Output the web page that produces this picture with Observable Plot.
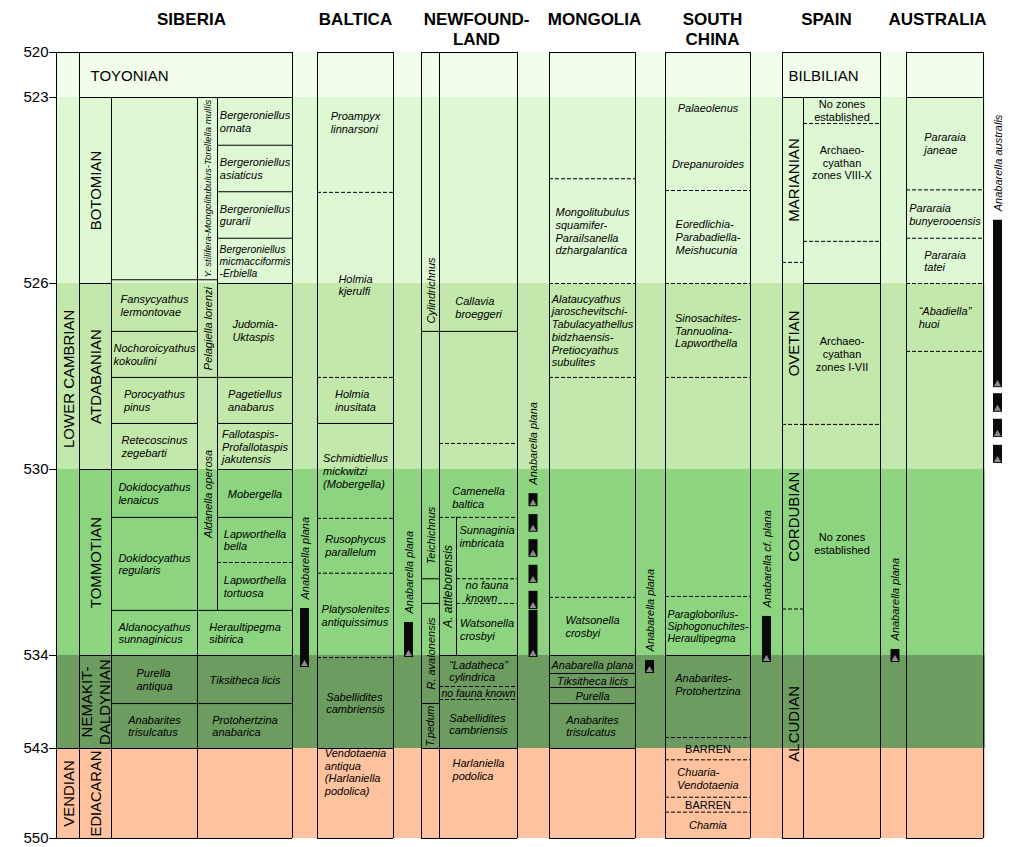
<!DOCTYPE html>
<html><head><meta charset="utf-8">
<script src="https://cdn.jsdelivr.net/npm/d3@7"></script>
<script src="https://cdn.jsdelivr.net/npm/@observablehq/plot@0.6"></script>
<style>body{margin:0;background:#fff}</style>
</head><body><div id="chart"></div>
<script>
// ================= DATA =================
const ageTicks = [520, 523, 526, 530, 534, 543, 550];
const regions = ["SIBERIA", "BALTICA", "NEWFOUND-\nLAND", "MONGOLIA", "SOUTH\nCHINA", "SPAIN", "AUSTRALIA"];
const bandTops = [520, 523, 526, 530, 534, 543];
const bandBottoms = [523, 526, 530, 534, 543, 550];

// [column, top age, bottom age, label, lower boundary (s solid / d dashed / n none), label age]
const siberiaZones = [
  ["sibA", 520, 543, "LOWER CAMBRIAN", "s", 528.05],
  ["sibA", 543, 550, "VENDIAN", "s"],
  ["sibBE", 520, 523, "TOYONIAN", "s"],
  ["sibB", 523, 526, "BOTOMIAN", "s"],
  ["sibB", 526, 530, "ATDABANIAN", "s"],
  ["sibB", 530, 534, "TOMMOTIAN", "s"],
  ["sibB", 534, 543, "NEMAKIT-\nDALDYNIAN", "s"],
  ["sibB", 543, 550, "EDIACARAN", "s"],
  ["sibC", 523, 525.94, "", "s"],
  ["sibC", 525.94, 527.03, "Fansycyathus\nlermontovae", "s"],
  ["sibC", 527.03, 528.02, "Nochoroicyathus\nkokoulini", "s"],
  ["sibC", 528.02, 529.01, "Porocyathus\npinus", "s"],
  ["sibC", 529.01, 530, "Retecoscinus\nzegebarti", "s"],
  ["sibC", 530, 531.03, "Dokidocyathus\nlenaicus", "s"],
  ["sibC", 531.03, 533.03, "Dokidocyathus\nregularis", "s"],
  ["sibC", 533.03, 534, "Aldanocyathus\nsunnaginicus", "s"],
  ["sibC", 534, 538.65, "Purella\nantiqua", "s"],
  ["sibC", 538.65, 543, "Anabarites\ntrisulcatus", "s"],
  ["sibC", 543, 550, "", "s"],
  ["sibD", 523, 525.94, "Y. stilifera-Mongolitubulus-Torellella mullis", "s"],
  ["sibD", 525.94, 528.02, "Pelagiella lorenzi", "s"],
  ["sibD", 528.02, 533.03, "Aldanella operosa", "s"],
  ["sibE", 523, 523.77, "Bergeroniellus\nornata", "s"],
  ["sibE", 523.77, 524.52, "Bergeroniellus\nasiaticus", "s"],
  ["sibE", 524.52, 525.27, "Bergeroniellus\ngurarii", "s"],
  ["sibE", 525.27, 526, "Bergeroniellus\nmicmacciformis\n-Erbiella", "s"],
  ["sibE", 526, 528.02, "Judomia-\nUktaspis", "s"],
  ["sibE", 528.02, 529.01, "Pagetiellus\nanabarus", "s"],
  ["sibE", 529.01, 530, "Fallotaspis-\nProfallotaspis\njakutensis", "s"],
  ["sibE", 530, 531.03, "Mobergella", "s"],
  ["sibE", 531.03, 532.0, "Lapworthella\nbella", "d"],
  ["sibE", 532.0, 533.03, "Lapworthella\ntortuosa", "s"],
  ["sibDE", 533.03, 534, "Heraultipegma\nsibirica", "s"],
  ["sibDE", 534, 538.65, "Tiksitheca licis", "s"],
  ["sibDE", 538.65, 543, "Protohertzina\nanabarica", "s"],
  ["sibDE", 543, 550, "", "s"]
];

const balticaZones = [
  ["bal", 520, 524.53, "Proampyx\nlinnarsoni", "d"],
  ["bal", 524.53, 528.02, "Holmia\nkjerulfi", "d"],
  ["bal", 528.02, 529.01, "Holmia\ninusitata", "s"],
  ["bal", 529.01, 531.05, "Schmidtiellus\nmickwitzi\n(Mobergella)", "d"],
  ["bal", 531.05, 532.23, "Rusophycus\nparallelum", "d"],
  ["bal", 532.23, 534.2, "Platysolenites\nantiquissimus", "d"],
  ["bal", 534.2, 543, "Sabellidites\ncambriensis", "s"],
  ["bal", 543, 550, "Vendotaenia\nantiqua\n(Harlaniella\npodolica)", "s", 544.83]
];

const newfoundlandZones = [
  ["nfN", 520, 527.03, "Cylindrichnus", "s", 526.15],
  ["nfN", 527.03, 532.35, "Teichichnus", "s", 531.42],
  ["nfN", 532.35, 532.88, "", "s"],
  ["nfN", 532.88, 538.65, "R. avalonensis", "s"],
  ["nfN", 538.65, 543, "T.pedum", "s"],
  ["nfN", 543, 550, "", "s"],
  ["nfW", 520, 527.03, "Callavia\nbroeggeri", "s", 526.52],
  ["nfW", 527.03, 529.44, "", "d"],
  ["nfW", 529.44, 531.03, "Camenella\nbaltica", "d", 530.6],
  ["nfA", 531.03, 534, "A. attleborensis", "s"],
  ["nfR", 531.03, 532.35, "Sunnaginia\nimbricata", "d", 531.44],
  ["nfR", 532.35, 532.88, "no fauna\nknown", "d"],
  ["nfR", 532.88, 534, "Watsonella\ncrosbyi", "s"],
  ["nfW", 534, 537.0, "\u201cLadatheca\u201d\ncylindrica", "d"],
  ["nfW", 537.0, 538.26, "no fauna known", "d"],
  ["nfW", 538.26, 543, "Sabellidites\ncambriensis", "s"],
  ["nfW", 543, 550, "Harlaniella\npodolica", "s", 544.63]
];

const mongoliaZones = [
  ["mon", 520, 524.31, "", "d"],
  ["mon", 524.31, 526, "Mongolitubulus\nsquamifer-\nParailsanella\ndzhargalantica", "d"],
  ["mon", 526, 528.02, "Alataucyathus\njaroschevitschi-\nTabulacyathellus\nbidzhaensis-\nPretiocyathus\nsubulites", "d"],
  ["mon", 528.02, 532.75, "", "d"],
  ["mon", 532.75, 534, "Watsonella\ncrosbyi", "s"],
  ["mon", 534, 535.74, "Anabarella plana", "s"],
  ["mon", 535.74, 537.1, "Tiksitheca licis", "s"],
  ["mon", 537.1, 538.65, "Purella", "s"],
  ["mon", 538.65, 543, "Anabarites\ntrisulcatus", "s"],
  ["mon", 543, 550, "", "s"]
];

const southChinaZones = [
  ["sc", 520, 523.65, "Palaeolenus", "n", 523.16],
  ["sc", 523.65, 524.5, "Drepanuroides", "d"],
  ["sc", 524.5, 526, "Eoredlichia-\nParabadiella-\nMeishucunia", "d"],
  ["sc", 526, 528.02, "Sinosachites-\nTannuolina-\nLapworthella", "d"],
  ["sc", 528.02, 532.73, "", "d"],
  ["sc", 532.73, 534, "Paragloborilus-\nSiphogonuchites-\nHeraultipegma", "s"],
  ["sc", 534, 541.94, "Anabarites-\nProtohertzina", "d", 536.8],
  ["sc", 541.94, 543.88, "BARREN", "d"],
  ["sc", 543.88, 546.79, "Chuaria-\nVendotaenia", "d"],
  ["sc", 546.79, 547.95, "BARREN", "d"],
  ["sc", 547.95, 550, "Chamia", "s"]
];

const spainZones = [
  ["spNW", 520, 523, "BILBILIAN", "s"],
  ["spN", 523, 525.66, "MARIANIAN", "d"],
  ["spN", 525.66, 529.03, "OVETIAN", "d"],
  ["spN", 529.03, 533.0, "CORDUBIAN", "d"],
  ["spN", 533.0, 550, "ALCUDIAN", "s"],
  ["spW", 523, 523.42, "No zones\nestablished", "d"],
  ["spW", 523.42, 525.32, "Archaeo-\ncyathan\nzones VIII-X", "d", 524.05],
  ["spW", 525.32, 526, "", "s"],
  ["spW", 526, 529.03, "Archaeo-\ncyathan\nzones I-VII", "d"],
  ["spW", 529.03, 550, "No zones\nestablished", "s", 531.59]
];

const australiaZones = [
  ["aus", 520, 523, "", "s"],
  ["aus", 523, 524.49, "Pararaia\njaneae", "d"],
  ["aus", 524.49, 525.27, "Pararaia\nbunyerooensis", "d"],
  ["aus", 525.27, 526, "Pararaia\ntatei", "d"],
  ["aus", 526, 527.46, "\u201cAbadiella\u201d\nhuoi", "d"],
  ["aus", 527.46, 550, "", "s"]
];

// Range charts (one per region gap column)
const rangeTaxa = ["Anabarella plana", "Anabarella plana", "Anabarella plana", "Anabarella plana", "Anabarella cf. plana", "Anabarella plana", "Anabarella australis"];
const rangeTops = [[532.99], [533.29], [530.52, 530.97, 531.51, 532.06, 532.62, 533.03], [534.48], [533.16], [533.87], [524.98, 528.37, 528.92, 529.48]];
const rangeBottoms = [[535.16], [534.19], [530.80, 531.35, 531.89, 532.45, 533.01, 534.19], [535.74], [534.68], [534.68], [528.24, 528.77, 529.31, 529.87]];

// ================= LAYOUT & STYLE =================
const tickPixels = [52, 97, 283, 469, 655, 748, 838];
const regionCenters = [191, 355, 476, 594, 712, 826, 937];
const regionSpans = [[56, 292], [317, 393], [421, 517], [549, 635], [665, 750], [782, 880], [906, 983]];
const rangeX = [304.5, 408.5, 533, 649.5, 766.5, 895, 997.5];
const bandColors = ["#f3fdec", "#dff8d4", "#c2e8ab", "#8cd47f", "#6c9c60", "#fec29e"];
const bandX = [56, 985];
const cols = {
  sibA:  {x1: 56,  x2: 79,  rot: true, upright: true, size: 15},
  sibB:  {x1: 79,  x2: 111, rot: true, upright: true, size: 15},
  sibBE: {x1: 79,  x2: 292, upright: true, size: 15, align: "start", pad: 11},
  sibC:  {x1: 111, x2: 197, size: 11},
  sibD:  {x1: 197, x2: 217, rot: true, size: 11},
  sibE:  {x1: 217, x2: 292, size: 11},
  sibDE: {x1: 197, x2: 292, size: 11},
  bal:   {x1: 317, x2: 393, size: 11},
  nfN:   {x1: 421, x2: 439, rot: true, size: 11},
  nfW:   {x1: 439, x2: 517, size: 11},
  nfA:   {x1: 439, x2: 456, rot: true, size: 12},
  nfR:   {x1: 456, x2: 517, size: 11},
  mon:   {x1: 549, x2: 635, size: 11},
  sc:    {x1: 665, x2: 750, size: 11},
  spNW:  {x1: 782, x2: 880, upright: true, size: 15, align: "start", pad: 6},
  spN:   {x1: 782, x2: 803, rot: true, upright: true, size: 15},
  spW:   {x1: 803, x2: 880, upright: true, size: 11, align: "center"},
  aus:   {x1: 906, x2: 983, size: 11}
};
const FONT = "'Liberation Sans', Arial, Helvetica, sans-serif";

// ================= BUILD =================
// piecewise time axis: age -> vertical position (used as the y scale's transform)
const yPos = d3.scaleLinear().domain(ageTicks).range(tickPixels);
const ctx = document.createElement("canvas").getContext("2d");
function textWidth(t, size, italic) {
  ctx.font = `${italic ? "italic " : ""}${size}px ${FONT}`;
  return d3.max(t.split("\n"), s => ctx.measureText(s).width);
}

const zoneTables = [siberiaZones, balticaZones, newfoundlandZones, mongoliaZones, southChinaZones, spainZones, australiaZones];
const zones = zoneTables.flat().map(([c, a, b, t, line, la]) => {
  const L = cols[c];
  const caps = t !== "" && t === t.toUpperCase() && /[A-Z]/.test(t);
  const upright = !!L.upright || caps;
  const ly = la ?? yPos.invert((yPos(a) + yPos(b)) / 2);
  let size = L.size;
  if (t) {
    const w = textWidth(t, size, !upright);
    const avail = L.rot ? (yPos(b) - yPos(a) - 4) : (L.x2 - L.x1 - 4);
    if (w > avail) size = size * avail / w;
  }
  const w2 = t ? textWidth(t, size, !upright) : 0;
  let anchor, lx;
  if (L.rot) { anchor = "middle"; lx = (L.x1 + L.x2) / 2; }
  else if (L.align === "start") { anchor = "start"; lx = L.x1 + L.pad; }
  else if (L.align === "center" || caps) { anchor = "middle"; lx = (L.x1 + L.x2) / 2; }
  else { anchor = "start"; lx = Math.max(L.x1 + 2, (L.x1 + L.x2) / 2 - w2 / 2); }
  return {c, a, b, t, line, x1: L.x1, x2: L.x2, ly, lx, size, rot: !!L.rot, upright, anchor};
});

const bands = bandTops.map((t, i) => ({a: t, b: bandBottoms[i], fill: bandColors[i], x1: bandX[0], x2: bandX[1]}));
const verticals = zones.flatMap(z => [{x: z.x1, a: z.a, b: z.b}, {x: z.x2, a: z.a, b: z.b}]);
const regionTops = regionSpans.map(([x1, x2]) => ({x1, x2, y: ageTicks[0]}));
const rangeSegs = rangeTaxa.flatMap((taxon, i) => rangeTops[i].map((top, j) => ({top, bottom: rangeBottoms[i][j], x: rangeX[i]})));
const rangeLabels = rangeTaxa.map((taxon, i) => ({taxon, x: rangeX[i], y: d3.min(rangeTops[i])}));

const labelGroups = d3.groups(zones.filter(z => z.t), z => `${z.rot}|${z.upright}|${z.anchor}`);
const labelMarks = labelGroups.map(([key, data]) => {
  const z0 = data[0];
  return Plot.text(data, {
    x: "lx", y: "ly", text: "t", fontSize: "size",
    rotate: z0.rot ? -90 : 0, textAnchor: z0.anchor, lineAnchor: "middle",
    fontStyle: z0.upright ? "normal" : "italic", lineHeight: 1.16, fill: "#000"
  });
});

const chart = Plot.plot({
  width: 1025, height: 847,
  marginLeft: 56, marginTop: 0, marginRight: 0, marginBottom: 0,
  x: {domain: [0, 1025], range: [0, 1025], axis: null},
  y: {transform: a => yPos(a), domain: [0, 847], range: [0, 847]},
  style: {fontFamily: FONT, background: "#fff", color: "#000"},
  marks: [
    Plot.rect(bands, {x1: "x1", x2: "x2", y1: "a", y2: "b", fill: "fill"}),
    ...labelMarks,
    Plot.ruleX(verticals, {x: "x", y1: "a", y2: "b", stroke: "#000", strokeWidth: 1}),
    Plot.ruleY(zones.filter(z => z.line === "s"), {y: "b", x1: "x1", x2: "x2", stroke: "#000", strokeWidth: 1}),
    Plot.ruleY(zones.filter(z => z.line === "d"), {y: "b", x1: "x1", x2: "x2", stroke: "#000", strokeWidth: 1, strokeDasharray: "4,2"}),
    Plot.ruleY(regionTops, {y: "y", x1: "x1", x2: "x2", stroke: "#000", strokeWidth: 1}),
    Plot.rect(rangeSegs, {x1: d => d.x - 4.5, x2: d => d.x + 4.5, y1: "top", y2: "bottom", fill: "#0a0a0a"}),
    Plot.dot(rangeSegs, {x: d => d.x - 0.5, y: "bottom", symbol: "triangle", r: 2.6, fill: "#8c8c8c", dy: -3.5}),
    Plot.text(rangeLabels, {x: "x", y: "y", text: "taxon", rotate: -90, textAnchor: "start", lineAnchor: "middle", fontStyle: "italic", fontSize: 11, dy: -9, fill: "#000"}),
    Plot.text(regions, {x: (d, i) => regionCenters[i], text: d => d, frameAnchor: "top", dy: 10, lineAnchor: "top", fontWeight: "bold", fontSize: 17, lineHeight: 1.18, fill: "#000"}),
    // the axis mark places ticks in the scale's transformed space, so pass positions and label them with their ages
    Plot.axisY({ticks: ageTicks.map(yPos), tickFormat: p => `${Math.round(yPos.invert(p))}`, tickSize: 7, tickPadding: 1, fontSize: 15, label: null})
  ]
});
document.getElementById("chart").appendChild(chart);
</script>
</body></html>
